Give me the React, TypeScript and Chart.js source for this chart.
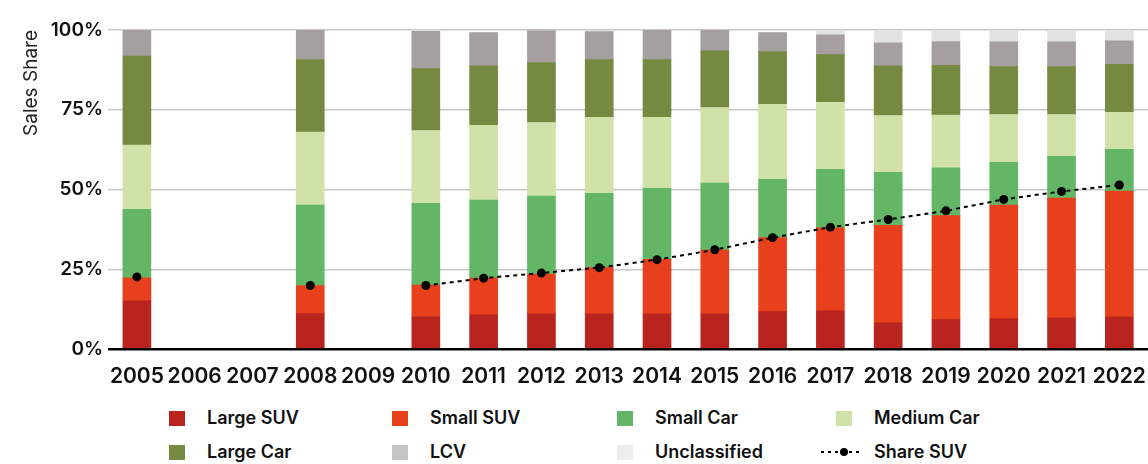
import React, { useEffect, useRef } from "react";
import { Chart, registerables } from "chart.js";

Chart.register(...registerables);

const years = ["2005","2006","2007","2008","2009","2010","2011","2012","2013","2014","2015","2016","2017","2018","2019","2020","2021","2022"];

const largeSUV   = [15.1, null, null, 11.1, null, 10.2, 10.7, 11.0, 11.0, 11.0, 11.0, 11.7, 12.0, 8.2, 9.2, 9.5, 9.8, 10.1];
const smallSUV   = [7.2, null, null, 8.8, null, 9.8, 11.5, 12.5, 14.5, 17.1, 20.0, 23.2, 26.0, 30.6, 32.6, 35.6, 37.5, 39.4];
const smallCar   = [21.5, null, null, 25.2, null, 25.7, 24.5, 24.4, 23.3, 22.3, 21.0, 18.3, 18.3, 16.6, 15.0, 13.4, 13.1, 13.1];
const mediumCar  = [20.1, null, null, 22.9, null, 22.8, 23.4, 23.1, 23.8, 22.2, 23.7, 23.5, 21.0, 17.8, 16.5, 15.0, 13.1, 11.6];
const largeCar   = [27.9, null, null, 22.7, null, 19.4, 18.7, 18.8, 18.1, 18.1, 17.8, 16.5, 15.0, 15.6, 15.6, 15.0, 15.0, 15.0];
const lcv        = [8.3, null, null, 9.3, null, 11.7, 10.4, 10.0, 8.8, 9.3, 6.5, 6.0, 6.2, 7.2, 7.5, 7.8, 7.8, 7.4];
const unclassified = [0, null, null, 0, null, 0, 0, 0, 0, 0, 0, 0, 1.5, 4.0, 3.7, 3.7, 3.7, 3.4];
const shareSUV   = [22.6, null, null, 19.9, null, 19.9, 22.2, 23.8, 25.5, 28.0, 31.1, 34.9, 38.2, 40.6, 43.3, 46.9, 49.4, 51.4];

const yTicks = [0, 25, 50, 75, 100];

const FONT = "Inter, 'Open Sans', sans-serif";

const barSeries = [
  { label: "Large SUV", data: largeSUV, color: "#B9251E", legend: "#B9251E" },
  { label: "Small SUV", data: smallSUV, color: "#E8401D", legend: "#E8401D" },
  { label: "Small Car", data: smallCar, color: "#62B665", legend: "#62B665" },
  { label: "Medium Car", data: mediumCar, color: "#D1E2A9", legend: "#D1E2A9" },
  { label: "Large Car", data: largeCar, color: "#758941", legend: "#758941" },
  { label: "LCV", data: lcv, color: "#A5A09F", legend: "#C5C5C5" },
  { label: "Unclassified", data: unclassified, color: "#E3E3E3", legend: "#EDEDED" },
];

const legendOrder = ["Large SUV", "Small SUV", "Small Car", "Medium Car", "Large Car", "LCV", "Unclassified", "Share SUV"];

export default function App() {
  const ref = useRef<HTMLCanvasElement | null>(null);

  useEffect(() => {
    if (!ref.current) return;
    const datasets: any[] = [
      {
        type: "line",
        label: "Share SUV",
        data: shareSUV,
        stack: "line",
        order: 0,
        borderColor: "#000",
        backgroundColor: "#000",
        borderWidth: 2,
        borderDash: [4, 4],
        pointRadius: 4.5,
        pointBackgroundColor: "#000",
        pointBorderWidth: 0,
        spanGaps: false,
        tension: 0,
      },
      ...barSeries.map((s) => ({
        type: "bar",
        label: s.label,
        data: s.data,
        stack: "bars",
        order: 1,
        backgroundColor: s.color,
        borderWidth: 0,
        barThickness: 28,
      })),
    ];
    const chart = new Chart(ref.current, {
      type: "bar",
      data: { labels: years, datasets },
      options: {
        responsive: false,
        animation: false,
        devicePixelRatio: 1,
        layout: { padding: { top: 30, right: 0, left: 0, bottom: 0 } },
        plugins: { legend: { display: false }, tooltip: { enabled: false } },
        scales: {
          x: {
            stacked: true,
            grid: { display: false },
            border: { display: false },
            ticks: {
              color: "#111",
              font: { family: FONT, size: 21, weight: "600" },
              padding: 7,
              maxRotation: 0,
              autoSkip: false,
            },
            afterFit: (s: any) => { s.height = 46; },
          },
          y: {
            stacked: true,
            min: 0,
            max: 100,
            afterBuildTicks: (s: any) => { s.ticks = yTicks.map((v) => ({ value: v })); },
            grid: {
              drawTicks: false,
              color: (c: any) => (c.tick && c.tick.value === 0 ? "#000" : "#C8C8C8"),
              lineWidth: (c: any) => (c.tick && c.tick.value === 0 ? 2.5 : 1.5),
            },
            border: { display: false },
            ticks: {
              color: "#111",
              font: { family: FONT, size: 19, weight: "600" },
              padding: 5,
              callback: (v: any) => v + "%",
            },
            title: {
              display: true,
              text: "Sales Share",
              align: "end",
              color: "#222",
              font: { family: FONT, size: 19, weight: "400" },
              padding: { top: 20, bottom: 0 },
            },
            afterFit: (s: any) => { s.width = 108; },
          },
        },
      },
    });
    return () => chart.destroy();
  }, []);

  const lookup: Record<string, string> = {};
  barSeries.forEach((s) => (lookup[s.label] = s.legend));
  const colX = [169, 392, 617, 836];
  const rowY = [410, 444];

  return (
    <div style={{ position: "absolute", left: 0, top: 0, width: 1148, height: 464, overflow: "hidden", background: "#fff" }}>
      <canvas ref={ref} width={1153} height={395} style={{ display: "block" }} />
      {legendOrder.map((name, i) => {
        const col = i % 4;
        const row = Math.floor(i / 4);
        const x = colX[col];
        const y = rowY[row];
        const isLine = name === "Share SUV";
        return (
          <div key={name} style={{ position: "absolute", left: isLine ? 820 : x, top: y, height: 16, display: "flex", alignItems: "center" }}>
            {isLine ? (
              <svg width={44} height={16} style={{ display: "block" }}>
                <line x1={1} y1={8} x2={43} y2={8} stroke="#000" strokeWidth={2} strokeDasharray="3,4" />
                <circle cx={24} cy={8} r={4} fill="#000" />
              </svg>
            ) : (
              <div style={{ width: 16, height: 15, background: lookup[name] }} />
            )}
            <span style={{ marginLeft: isLine ? 10 : 22, fontFamily: FONT, fontWeight: 600, fontSize: 18, color: "#111", whiteSpace: "nowrap", lineHeight: "16px" }}>{name}</span>
          </div>
        );
      })}
    </div>
  );
}
